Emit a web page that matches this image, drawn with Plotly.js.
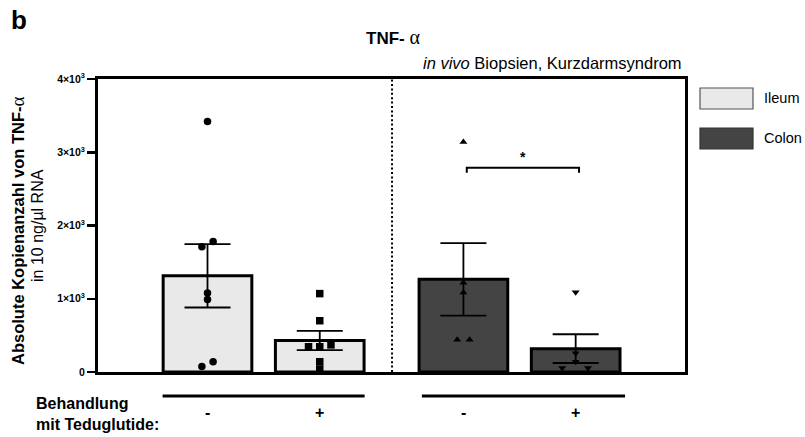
<!DOCTYPE html>
<html>
<head>
<meta charset="utf-8">
<script src="https://cdn.plot.ly/plotly-3.0.1.min.js"></script>
<style>
  html, body { margin: 0; padding: 0; background: #ffffff; }
  #chart { width: 805px; height: 437px; }
</style>
</head>
<body>
<div id="chart"></div>
<script>
// TNF-alpha copy numbers in short-bowel biopsies, with and without Teduglutide
const groups = ['Ileum', 'Ileum', 'Colon', 'Colon'];
const treatmentLabels = ['-', '+', '-', '+'];

// individual measurements per group (copies in 10 ng/µl RNA)
const ileumMinus = [3420, 1780, 1710, 1080, 990, 140, 75];
const ileumPlus  = [1070, 700, 370, 345, 345, 140, 40];
const colonMinus = [3140, 1220, 1085, 440, 440];
const colonPlus  = [1090, 255, 140, 55, 55];

// horizontal scatter of the dots inside each bar
const ileumMinusJitter = [0, 0.05, -0.05, 0, 0, 0.05, -0.05];
const ileumPlusJitter  = [0, 0, 0.1, 0, -0.1, 0, 0];
const colonMinusJitter = [0, 0, 0, -0.055, 0.055];
const colonPlusJitter  = [0, 0, 0, -0.12, 0.11];

const yTickVals = [0, 1000, 2000, 3000, 4000];
const yTickText = ['0', '1×10<sup>3</sup>', '2×10<sup>3</sup>', '3×10<sup>3</sup>', '4×10<sup>3</sup>'];

// significance between Colon - and Colon +
const sigLevel = 2790;
const sigDrop = 2720;
const sigLabel = '*';

function mean(a) { return a.reduce((s, v) => s + v, 0) / a.length; }
function sem(a) {
  const m = mean(a);
  const sd = Math.sqrt(a.reduce((s, v) => s + (v - m) * (v - m), 0) / (a.length - 1));
  return sd / Math.sqrt(a.length);
}

const samples = [ileumMinus, ileumPlus, colonMinus, colonPlus];
const jitters = [ileumMinusJitter, ileumPlusJitter, colonMinusJitter, colonPlusJitter];
const symbols = ['circle', 'square', 'triangle-up', 'triangle-down'];
const slot = [1, 2, 3.28, 4.28];
const dividerX = 2.644;

const FONT = 'Liberation Sans, Arial, Helvetica, sans-serif';
const SERIF = 'Liberation Serif, DejaVu Serif, serif';
const fills = { Ileum: '#e9e9e9', Colon: '#444444' };

// plot frame in pixels, for placing paper-anchored decorations
const L = 98, R = 685, T = 79, B = 372;
const px = v => (v - L) / (R - L);
const py = v => (B - v) / (B - T);

const traces = [];
groups.forEach((g, i) => {
  traces.push({
    type: 'bar',
    x: [slot[i]],
    y: [mean(samples[i])],
    width: 0.79,
    marker: { color: fills[g], line: { color: '#000000', width: 3 } },
    error_y: { type: 'data', array: [sem(samples[i])], visible: true,
               color: '#000000', thickness: 1.8, width: 23 },
    showlegend: false,
    hoverinfo: 'y'
  });
});
samples.forEach((vals, i) => {
  traces.push({
    type: 'scatter',
    mode: 'markers',
    x: vals.map((v, k) => slot[i] + jitters[i][k]),
    y: vals,
    marker: { symbol: symbols[i], color: '#000000', size: i < 2 ? 7.5 : 7 },
    showlegend: false,
    cliponaxis: false
  });
});

const shapes = [
  // dotted divider between Ileum and Colon
  { type: 'line', xref: 'x', yref: 'y', x0: dividerX, x1: dividerX, y0: 0, y1: 4000,
    line: { color: '#000000', width: 2, dash: '2px,2.4px' } },
  // significance bracket
  { type: 'path', xref: 'x', yref: 'y',
    path: `M ${slot[2] + 0.03} ${sigDrop} L ${slot[2] + 0.03} ${sigLevel} L ${slot[3] + 0.03} ${sigLevel} L ${slot[3] + 0.03} ${sigDrop}`,
    line: { color: '#000000', width: 2 } },
  // group underlines below the axis
  { type: 'line', xref: 'x', yref: 'paper', x0: slot[0] - 0.4, x1: slot[1] + 0.4, y0: py(396), y1: py(396),
    line: { color: '#000000', width: 3.2 } },
  { type: 'line', xref: 'x', yref: 'paper', x0: slot[2] - 0.37, x1: slot[3] + 0.44, y0: py(396), y1: py(396),
    line: { color: '#000000', width: 3.2 } },
  // legend swatches
  { type: 'rect', xref: 'paper', yref: 'paper', x0: px(700), x1: px(753), y0: py(109), y1: py(88),
    fillcolor: fills.Ileum, line: { color: '#555555', width: 1.2 } },
  { type: 'rect', xref: 'paper', yref: 'paper', x0: px(700), x1: px(753), y0: py(149), y1: py(128),
    fillcolor: fills.Colon, line: { color: '#333333', width: 1.2 } }
];

const annotations = [
  { text: '<b>b</b>', xref: 'paper', yref: 'paper', x: px(9), y: py(20), xanchor: 'left', yanchor: 'middle',
    showarrow: false, font: { family: FONT, size: 26, color: '#000' } },
  { text: `<b>TNF-</b> <span style="font-family:${SERIF};font-size:20px">α</span>`, xref: 'paper', yref: 'paper',
    x: px(393), y: py(37), xanchor: 'center', yanchor: 'middle', showarrow: false,
    font: { family: FONT, size: 17, color: '#000' } },
  { text: '<i>in vivo</i> Biopsien, Kurzdarmsyndrom', xref: 'paper', yref: 'paper',
    x: px(684), y: py(63), xanchor: 'right', yanchor: 'middle', showarrow: false,
    font: { family: FONT, size: 16.5, color: '#000' } },
  { text: `<b>Absolute Kopienanzahl von TNF-</b><span style="font-family:${SERIF};font-size:19px">α</span>`,
    xref: 'paper', yref: 'paper', x: px(18), y: py(231), textangle: -90,
    xanchor: 'center', yanchor: 'middle', showarrow: false,
    font: { family: FONT, size: 16.5, color: '#000' } },
  { text: 'in 10 ng/µl RNA', xref: 'paper', yref: 'paper', x: px(37), y: py(226), textangle: -90,
    xanchor: 'center', yanchor: 'middle', showarrow: false,
    font: { family: FONT, size: 16, color: '#000' } },
  { text: `<b>${sigLabel}</b>`, xref: 'x', yref: 'y', x: (slot[2] + slot[3]) / 2 + 0.03, y: sigLevel + 150,
    showarrow: false, font: { family: FONT, size: 14, color: '#000' } },
  { text: 'Ileum', xref: 'paper', yref: 'paper', x: px(762), y: py(98), xanchor: 'left', yanchor: 'middle',
    showarrow: false, font: { family: FONT, size: 14.5, color: '#000' } },
  { text: 'Colon', xref: 'paper', yref: 'paper', x: px(762), y: py(138), xanchor: 'left', yanchor: 'middle',
    showarrow: false, font: { family: FONT, size: 14.5, color: '#000' } },
  { text: '<b>Behandlung<br>mit Teduglutide:</b>', xref: 'paper', yref: 'paper', x: px(34), y: py(414),
    xanchor: 'left', yanchor: 'middle', align: 'left', showarrow: false,
    font: { family: FONT, size: 16, color: '#000' } }
];
treatmentLabels.forEach((t, i) => {
  annotations.push({ text: `<b>${t}</b>`, xref: 'x', yref: 'paper', x: slot[i], y: py(412),
    xanchor: 'center', yanchor: 'middle', showarrow: false,
    font: { family: FONT, size: 16, color: '#000' } });
});

const layout = {
  width: 805, height: 437,
  margin: { l: L, r: 805 - R, t: T, b: 437 - B, pad: 0 },
  paper_bgcolor: '#ffffff', plot_bgcolor: '#ffffff',
  font: { family: FONT, color: '#000' },
  bargap: 0,
  xaxis: { range: [0.0245, 5.254], showticklabels: false, ticks: '', showgrid: false, zeroline: false,
           showline: true, linecolor: '#000', linewidth: 3, mirror: true, fixedrange: true },
  yaxis: { range: [0, 4000], tickvals: yTickVals, ticktext: yTickText.map(t => `<b>${t}</b>`),
           ticks: 'outside', ticklen: 8, tickwidth: 2.5, tickcolor: '#000', showgrid: false, zeroline: false,
           showline: true, linecolor: '#000', linewidth: 3, mirror: true,
           tickfont: { family: FONT, size: 10.5, color: '#000' }, fixedrange: true },
  shapes: shapes,
  annotations: annotations,
  showlegend: false
};

Plotly.newPlot('chart', traces, layout, { displayModeBar: false, staticPlot: true });
</script>
</body>
</html>
